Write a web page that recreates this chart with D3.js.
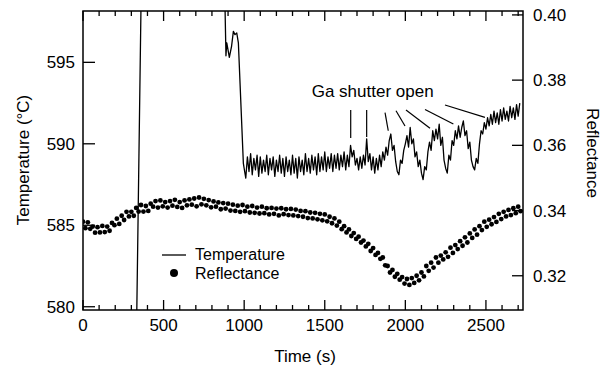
<!DOCTYPE html>
<html>
<head>
<meta charset="utf-8">
<script src="https://cdn.jsdelivr.net/npm/d3@7"></script>
<style>
  html, body { margin: 0; padding: 0; background: #fff; }
  svg { display: block; }
  text { font-family: "Liberation Sans", Arial, Helvetica, sans-serif; fill: #000; }
</style>
</head>
<body>
<svg id="chart" width="606" height="373"></svg>
<script>
// ---------------- DATA ----------------
// Temperature (°C), early part (explicit times; values outside the axis range are clipped)
const tempEarlyTime  = [0, 330, 362, 878, 887, 892, 908, 922, 933, 943, 954, 964, 995, 1003];
const tempEarlyValue = [577, 577, 600, 600, 595.4, 596.2, 595.3, 596.0, 596.9, 596.7, 596.8, 596.2, 588.8, 588.3];
// Temperature (°C), sampled every 10 s from 1010 s
const tempStart = 1010, tempStep = 10;
const tempValue = [
  587.9, 589.2, 588.3, 589.4, 588.1, 589.1, 588.4, 589.3, 588.0, 589.2,
  588.2, 589.0, 588.3, 589.3, 588.1, 589.1, 588.4, 589.2, 588.0, 589.0,
  588.3, 589.3, 588.2, 589.1, 588.0, 589.2, 588.3, 589.0, 588.1, 589.3,
  588.2, 589.1, 587.9, 589.2, 588.3, 589.0, 588.1, 589.4, 588.3, 589.1,
  588.2, 589.3, 588.4, 589.2, 588.1, 589.4, 588.3, 589.2, 588.4, 589.5,
  588.3, 589.2, 588.5, 589.4, 588.3, 589.3, 588.5, 589.4, 588.4, 589.3,
  588.6, 589.5, 588.4, 589.3, 588.6, 589.9, 589.2, 589.6, 588.7, 589.1,
  588.4, 589.2, 588.5, 589.3, 588.7, 590.3, 588.9, 589.4, 588.4, 589.2,
  588.2, 589.1, 588.4, 589.3, 588.6, 589.5, 589.0, 589.8, 589.3, 590.2,
  590.6, 589.6, 589.9, 588.9, 588.3, 588.1, 589.0, 588.8, 589.6, 590.0,
  590.5, 589.8, 591.0, 590.0, 590.3, 589.2, 589.5, 588.6, 589.0, 588.2,
  587.8, 588.6, 588.4, 589.5, 590.1, 589.6, 590.8, 590.2, 590.9, 590.3,
  591.2, 589.9, 590.4, 589.0, 588.5, 588.2, 589.3, 589.0, 590.2, 589.9,
  590.8, 590.3, 591.1, 590.4, 591.0, 591.4, 590.5, 590.8, 589.7, 590.1,
  589.0, 588.6, 588.4, 589.1, 588.8, 590.0, 590.8, 590.6, 591.3, 590.9,
  591.6, 591.1, 591.8, 591.2, 592.0, 591.3, 591.9, 591.2, 592.1, 591.4,
  592.2, 591.5, 592.0, 591.4, 592.3, 591.6, 592.2, 591.5, 592.4, 591.7,
  592.5
];
// Reflectance, sampled every 15 s from 0 s
const reflStart = 0, reflStep = 15;
const reflValue = [
  0.3366, 0.3346, 0.3364, 0.3344, 0.3351, 0.3332, 0.3349, 0.3333, 0.3353, 0.3334,
  0.3351, 0.3338, 0.3362, 0.3355, 0.3375, 0.3359, 0.3384, 0.3371, 0.3396, 0.3382,
  0.3396, 0.3384, 0.3408, 0.3397, 0.3417, 0.3397, 0.3414, 0.3399, 0.3421, 0.3412,
  0.3429, 0.3409, 0.3431, 0.3413, 0.3426, 0.3409, 0.3429, 0.3415, 0.3433, 0.3411,
  0.3426, 0.3408, 0.3431, 0.3416, 0.3434, 0.3418, 0.3437, 0.3413, 0.3440, 0.3419,
  0.3436, 0.3416, 0.3432, 0.3410, 0.3428, 0.3412, 0.3425, 0.3404, 0.3423, 0.3406,
  0.3421, 0.3400, 0.3418, 0.3399, 0.3415, 0.3396, 0.3417, 0.3398, 0.3412, 0.3394,
  0.3414, 0.3393, 0.3409, 0.3391, 0.3412, 0.3392, 0.3407, 0.3388, 0.3408, 0.3390,
  0.3406, 0.3385, 0.3407, 0.3389, 0.3404, 0.3386, 0.3405, 0.3385, 0.3403, 0.3383,
  0.3399, 0.3381, 0.3398, 0.3377, 0.3394, 0.3376, 0.3393, 0.3373, 0.3390, 0.3370,
  0.3388, 0.3367, 0.3381, 0.3361, 0.3376, 0.3354, 0.3366, 0.3343, 0.3352, 0.3333,
  0.3342, 0.3322, 0.3331, 0.3313, 0.3320, 0.3302, 0.3308, 0.3290, 0.3298, 0.3276,
  0.3285, 0.3264, 0.3270, 0.3252, 0.3256, 0.3232, 0.3230, 0.3210, 0.3218, 0.3197,
  0.3206, 0.3188, 0.3196, 0.3176, 0.3190, 0.3172, 0.3193, 0.3178, 0.3200, 0.3186,
  0.3210, 0.3198, 0.3230, 0.3215, 0.3240, 0.3225, 0.3256, 0.3240, 0.3262, 0.3250,
  0.3272, 0.3258, 0.3286, 0.3270, 0.3294, 0.3282, 0.3306, 0.3292, 0.3318, 0.3302,
  0.3330, 0.3316, 0.3342, 0.3326, 0.3352, 0.3340, 0.3366, 0.3350, 0.3372, 0.3358,
  0.3380, 0.3365, 0.3390, 0.3374, 0.3396, 0.3382, 0.3402, 0.3386, 0.3407, 0.3392,
  0.3412, 0.3398
];
// Axis ticks and labels
const xTickLabels = [0, 500, 1000, 1500, 2000, 2500];
const xMinorTicks = d3.range(0, 2701, 100);
const tempTicks = [580, 585, 590, 595];
const reflTicks = [0.32, 0.34, 0.36, 0.38, 0.40];
// Annotation: pointers (time1, temp1, time2, temp2)
const annoText = "Ga shutter open";
const annoPos = [1419, 592.87];
const annoPointers = [
  [1661, 592.07, 1661, 590.35],
  [1760, 592.07, 1760, 590.41],
  [1874, 591.91, 1894, 590.80],
  [1942, 592.03, 1998, 591.09],
  [2004, 592.07, 2153, 590.95],
  [2122, 592.11, 2298, 591.21],
  [2246, 592.38, 2494, 591.62]
];
const seriesNames = ["Temperature", "Reflectance"];
const xTitle = "Time (s)", yLeftTitle = "Temperature (°C)", yRightTitle = "Reflectance";

// ---------------- LAYOUT ----------------
const W = 606, H = 373;
const m = { left: 83, right: 83, top: 11, bottom: 63 };
const pw = W - m.left - m.right, ph = H - m.top - m.bottom;
const FS = 17;

const svg = d3.select("#chart");
const x = d3.scaleLinear().domain([0, 2730]).range([m.left, m.left + pw]);
const yT = d3.scaleLinear().domain([579.8, 598.15]).range([m.top + ph, m.top]);
const yR = d3.scaleLinear().domain([0.3095, 0.4012]).range([m.top + ph, m.top]);

svg.append("defs").append("clipPath").attr("id", "clip")
  .append("rect").attr("x", m.left).attr("y", m.top).attr("width", pw).attr("height", ph);

// Temperature line
const tempData = tempEarlyTime.map((t, i) => [t, tempEarlyValue[i]])
  .concat(tempValue.map((v, i) => [tempStart + i * tempStep, v]));
svg.append("path")
  .datum(tempData)
  .attr("clip-path", "url(#clip)")
  .attr("fill", "none").attr("stroke", "#000").attr("stroke-width", 1.3)
  .attr("stroke-linejoin", "round")
  .attr("d", d3.line().x(d => x(d[0])).y(d => yT(d[1])));

// Reflectance dots
const reflData = reflValue.map((v, i) => [reflStart + i * reflStep, v]);
svg.append("g").attr("clip-path", "url(#clip)")
  .selectAll("circle").data(reflData).join("circle")
  .attr("cx", d => x(d[0])).attr("cy", d => yR(d[1])).attr("r", 2.4).attr("fill", "#000");

// Frame
svg.append("rect").attr("x", m.left).attr("y", m.top).attr("width", pw).attr("height", ph)
  .attr("fill", "none").attr("stroke", "#000").attr("stroke-width", 1.5);

// Bottom & top ticks (inward)
const axG = svg.append("g").attr("stroke", "#000").attr("stroke-width", 1.3);
xMinorTicks.forEach(t => {
  const len = (t % 500 === 0) ? 10 : 5;
  axG.append("line").attr("x1", x(t)).attr("x2", x(t)).attr("y1", m.top + ph).attr("y2", m.top + ph - len);
  axG.append("line").attr("x1", x(t)).attr("x2", x(t)).attr("y1", m.top).attr("y2", m.top + len);
});
// Left ticks
tempTicks.forEach(v => {
  axG.append("line").attr("x1", m.left).attr("x2", m.left + 12).attr("y1", yT(v)).attr("y2", yT(v));
});
// Right ticks
reflTicks.forEach(v => {
  axG.append("line").attr("x1", m.left + pw).attr("x2", m.left + pw - 11).attr("y1", yR(v)).attr("y2", yR(v));
});

// Tick labels
svg.append("g").selectAll("text").data(xTickLabels).join("text")
  .attr("x", d => x(d)).attr("y", 331).attr("text-anchor", "middle")
  .attr("font-size", FS).text(d => d);
svg.append("g").selectAll("text").data(tempTicks).join("text")
  .attr("x", 75).attr("y", d => yT(d) + 6).attr("text-anchor", "end")
  .attr("font-size", FS).text(d => d);
svg.append("g").selectAll("text").data(reflTicks).join("text")
  .attr("x", 533).attr("y", d => yR(d) + 6).attr("text-anchor", "start")
  .attr("font-size", FS).text(d => d.toFixed(2));

// Axis titles
svg.append("text").attr("x", 305).attr("y", 362).attr("text-anchor", "middle")
  .attr("font-size", FS).text(xTitle);
svg.append("text").attr("transform", "translate(29,160) rotate(-90)").attr("text-anchor", "middle")
  .attr("font-size", FS).text(yLeftTitle);
svg.append("text").attr("transform", "translate(587,153) rotate(90)").attr("text-anchor", "middle")
  .attr("font-size", FS).text(yRightTitle);

// Annotation
svg.append("text").attr("x", x(annoPos[0])).attr("y", yT(annoPos[1]))
  .attr("font-size", FS).text(annoText);
svg.append("g").attr("stroke", "#000").attr("stroke-width", 1.2)
  .selectAll("line").data(annoPointers).join("line")
  .attr("x1", d => x(d[0])).attr("y1", d => yT(d[1]))
  .attr("x2", d => x(d[2])).attr("y2", d => yT(d[3]));

// Legend
const LFS = 16;
const lg = svg.append("g");
lg.append("line").attr("x1", 162).attr("x2", 186).attr("y1", 255).attr("y2", 255)
  .attr("stroke", "#000").attr("stroke-width", 1.3);
lg.append("text").attr("x", 195).attr("y", 260).attr("font-size", LFS).text(seriesNames[0]);
lg.append("circle").attr("cx", 174).attr("cy", 273).attr("r", 4).attr("fill", "#000");
lg.append("text").attr("x", 195).attr("y", 279).attr("font-size", LFS).text(seriesNames[1]);
</script>
</body>
</html>
